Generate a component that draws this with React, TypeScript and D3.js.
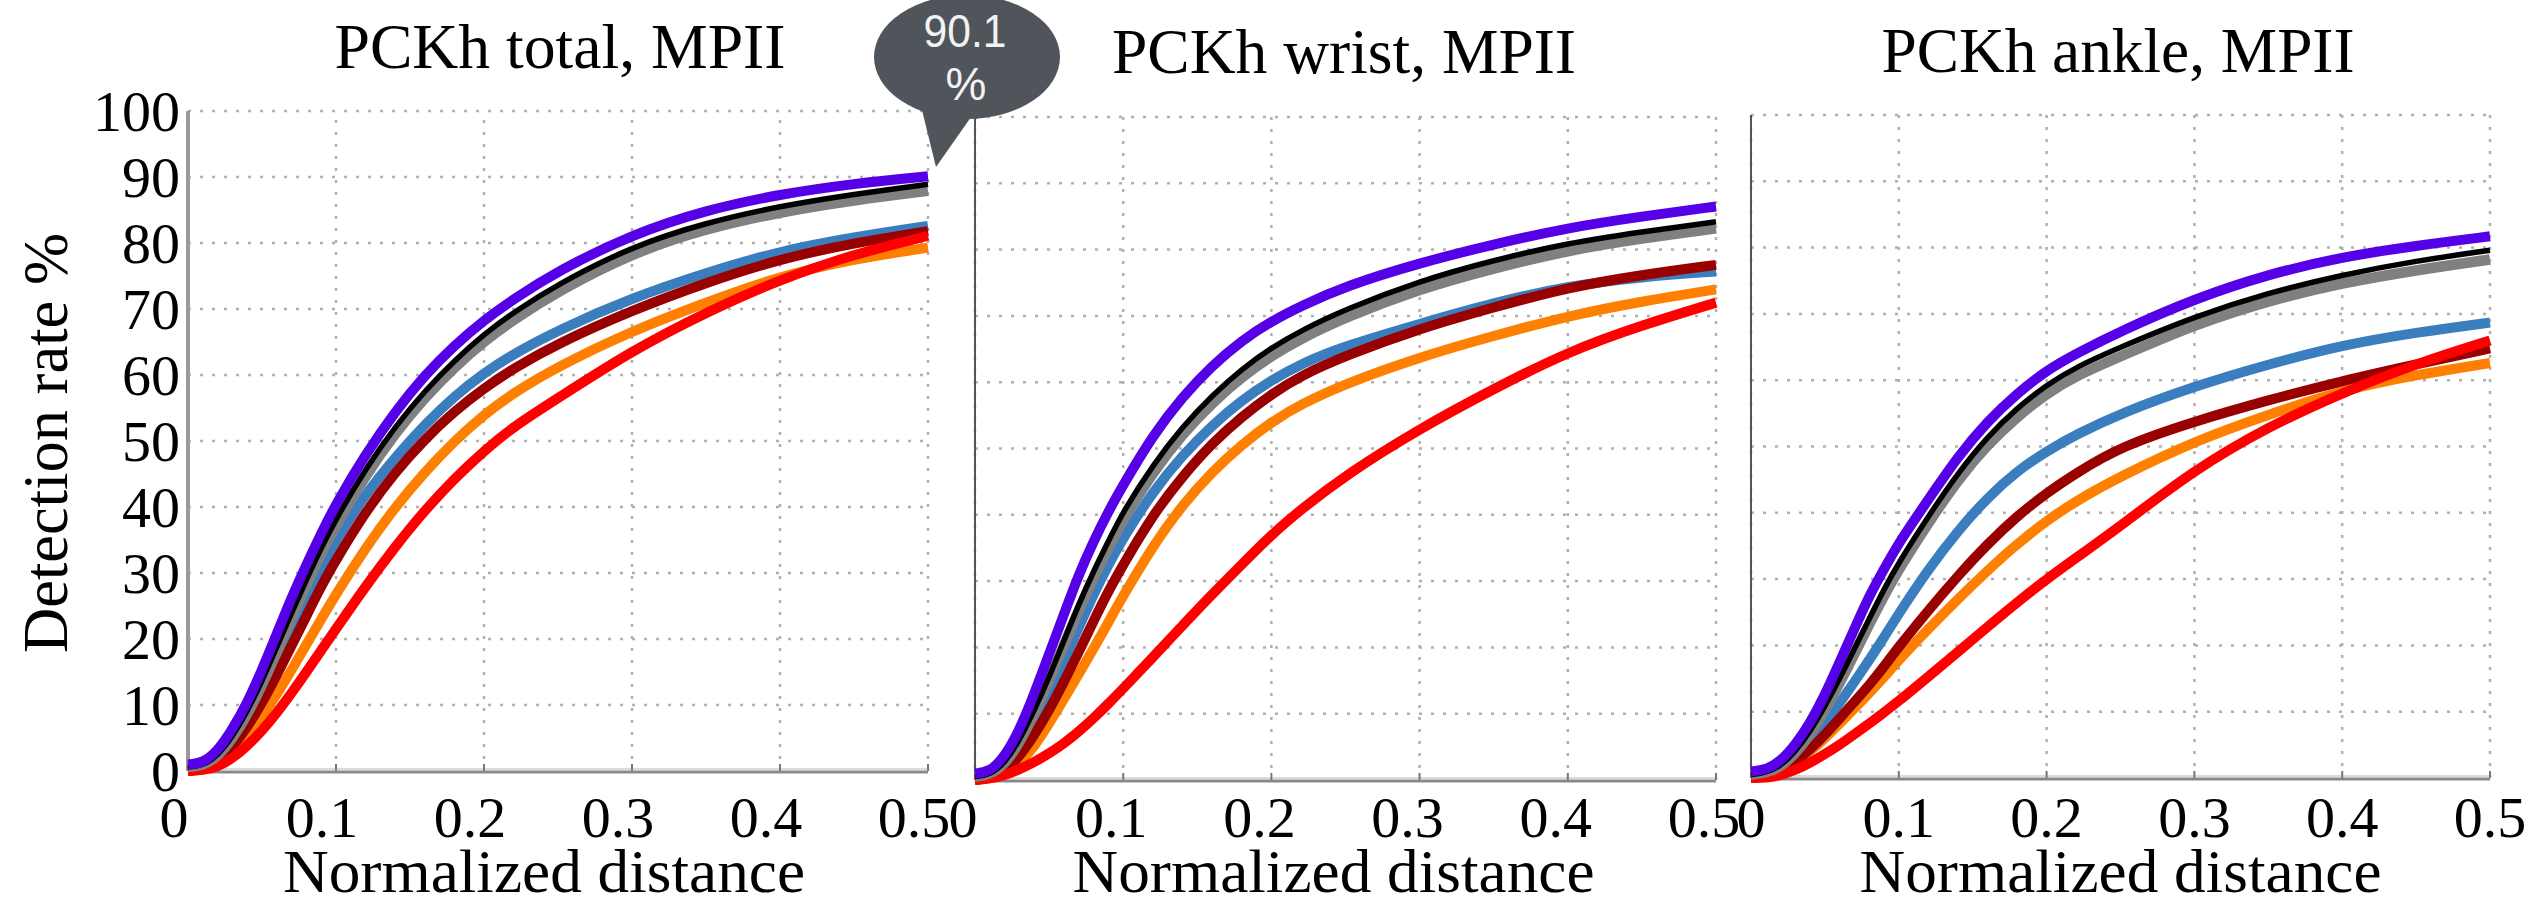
import React from 'react';
import * as d3 from 'd3';

const W = 2528;
const H = 899;
const SERIF = "'Liberation Serif', 'Times New Roman', serif";

// normalized distance samples shared by every curve
const xs = [0, 0.01, 0.02, 0.03, 0.04, 0.05, 0.06, 0.07, 0.08, 0.09, 0.1, 0.12, 0.14, 0.16, 0.18, 0.2, 0.22, 0.25, 0.3, 0.35, 0.4, 0.45, 0.5];
const xTicks = [0, 0.1, 0.2, 0.3, 0.4, 0.5];
const yTicks = [0, 10, 20, 30, 40, 50, 60, 70, 80, 90, 100];

// PCKh total
const totalPurple = [1, 1.2, 3, 6.3, 10.3, 15.3, 20.8, 26.3, 31.3, 36, 40.5, 48, 54.5, 60, 64.5, 68.3, 71.5, 75.8, 81.3, 85, 87.4, 89, 90.1];
const totalBlack = [0.6, 0.8, 2.3, 5.2, 9, 13.6, 18.8, 24, 29, 33.8, 38.2, 45.8, 52.2, 57.6, 62.2, 66.2, 69.5, 73.8, 79.5, 83.1, 85.6, 87.4, 88.9];
const totalGray = [0.6, 0.8, 2.1, 4.9, 8.5, 13, 18, 23.2, 28.2, 33, 37.3, 44.8, 51.2, 56.6, 61.2, 65.1, 68.4, 72.7, 78.5, 82.2, 84.7, 86.5, 87.9];
const totalBlue = [0.3, 0.5, 1.8, 4.3, 7.6, 11.8, 16.5, 21.5, 26.3, 30.8, 35, 42, 47.5, 52.5, 56.8, 60.3, 63.2, 66.8, 71.7, 75.5, 78.8, 80.9, 82.6];
const totalDarkRed = [0, 0.3, 1.4, 3.6, 6.6, 10.3, 14.5, 19, 23.5, 28, 32, 39.3, 45.3, 50.3, 54.5, 58, 61, 64.8, 69.8, 74, 77.6, 80, 81.8];
const totalOrange = [0, 0.2, 1, 2.8, 5.2, 8.2, 11.6, 15.3, 19.2, 23, 26.8, 33.8, 40, 45.3, 50, 54, 57.3, 61.3, 66.7, 71, 75, 77.6, 79.3];
const totalRed = [0, 0.1, 0.6, 1.9, 3.8, 6.1, 8.8, 11.8, 15, 18.3, 21.5, 28, 34, 39.5, 44.3, 48.5, 52.2, 56.5, 63.7, 69.5, 74.5, 78.3, 81.1];

// PCKh wrist
const wristPurple = [1, 1.2, 3.5, 7.5, 13, 19, 25, 31, 36, 40.5, 44.5, 52, 57.8, 62.5, 66.3, 69.2, 71.5, 74.5, 78, 80.8, 83.3, 85, 86.5];
const wristBlack = [0.5, 0.8, 2.5, 6, 10.5, 15.5, 21, 26.5, 31.5, 36, 40.5, 47.5, 53.3, 58, 62, 65.2, 67.8, 71, 75.3, 78.4, 81, 82.7, 84.2];
const wristGray = [0.5, 0.8, 2.3, 5.6, 10, 15, 20.3, 25.6, 30.5, 35, 39.3, 46.4, 52.2, 56.9, 60.8, 64, 66.6, 69.8, 74.1, 77.2, 79.9, 81.7, 83.2];
const wristBlue = [0.3, 0.5, 1.8, 4.5, 8.5, 13, 18, 23, 28, 32.5, 36.5, 43.5, 49, 53.5, 57.3, 60.3, 62.8, 65.5, 68.8, 72, 74.5, 75.9, 76.7];
const wristDarkRed = [0, 0.3, 1.3, 3.5, 6.8, 10.5, 14.8, 19.3, 24, 28.5, 32.5, 40, 45.8, 50.8, 54.8, 58.2, 61, 64, 68.1, 71.3, 74.3, 76.2, 77.7];
const wristOrange = [0, 0.2, 0.9, 2.5, 5, 8.5, 12.2, 16, 19.8, 23.8, 27.8, 35.3, 41.5, 46.5, 50.6, 54, 56.7, 59.8, 63.8, 67, 70, 72.2, 74];
const wristRed = [0, 0.2, 0.7, 1.6, 2.7, 4, 5.5, 7.3, 9.3, 11.5, 13.8, 18.5, 23.3, 28, 32.5, 37, 40.8, 46, 53, 59, 64.6, 68.6, 72];

// PCKh ankle
const anklePurple = [1, 1.2, 2.5, 5, 8.3, 12.5, 17.5, 22.5, 27.5, 31.5, 35.5, 42, 48.5, 53.8, 58, 61.5, 64, 67.4, 72.3, 76, 78.6, 80.3, 81.7];
const ankleBlack = [0.5, 0.8, 1.8, 4, 7, 10.8, 15, 19.5, 24, 28.5, 32.5, 39.5, 46, 51.5, 55.8, 59.3, 62, 65, 69.6, 73.2, 75.9, 78, 79.6];
const ankleGray = [0.5, 0.8, 1.6, 3.7, 6.5, 10.2, 14.3, 18.7, 23.2, 27.5, 31.5, 38.5, 45, 50.3, 54.5, 58, 60.7, 63.6, 68.4, 72, 74.7, 76.6, 78.2];
const ankleBlue = [0.3, 0.5, 1.3, 3, 5.3, 8.2, 11.3, 14.5, 17.8, 21.2, 24.8, 31.5, 37.3, 42.3, 46.3, 49.3, 51.8, 55, 59.1, 62.4, 65.3, 67.2, 68.7];
const ankleDarkRed = [0, 0.2, 0.9, 2.4, 4.3, 6.5, 9, 11.5, 14, 16.8, 19.8, 25.3, 30.5, 35.3, 39.5, 43, 46, 50, 53.8, 57, 59.9, 62.4, 64.8];
const ankleOrange = [0, 0.2, 0.8, 2.2, 4, 6, 8.2, 10.5, 12.8, 15.2, 17.8, 22.5, 27, 31.3, 35.3, 38.8, 41.8, 45.5, 50.8, 54.8, 58.5, 60.8, 62.6];
const ankleRed = [0, 0, 0.4, 1.2, 2.3, 3.6, 5, 6.6, 8.2, 9.9, 11.6, 15.3, 19, 22.8, 26.5, 30, 33.2, 38, 46.5, 53, 58.1, 62.5, 66];

// drawing order, bottom first
const lineStyles = [
  { key: 'orange', color: '#ff8000', width: 10 },
  { key: 'blue', color: '#3a7ebf', width: 10 },
  { key: 'darkRed', color: '#990000', width: 10 },
  { key: 'red', color: '#ff0000', width: 10 },
  { key: 'gray', color: '#808080', width: 10.5 },
  { key: 'black', color: '#000000', width: 5.5 },
  { key: 'purple', color: '#5500e6', width: 10 },
];

const panels = [
  {
    title: 'PCKh total, MPII', left: 188, right: 928, top: 111, bottom: 771,
    titleX: 560, titleY: 68, titleLen: 451, labelShift: -14, axisColor: '#9a9a9a', axisWidth: 4,
    series: { purple: totalPurple, black: totalBlack, gray: totalGray, blue: totalBlue, darkRed: totalDarkRed, orange: totalOrange, red: totalRed },
  },
  {
    title: 'PCKh wrist, MPII', left: 975, right: 1716, top: 117, bottom: 780,
    titleX: 1344, titleY: 73, titleLen: 464, labelShift: -12, axisColor: '#555', axisWidth: 2,
    series: { purple: wristPurple, black: wristBlack, gray: wristGray, blue: wristBlue, darkRed: wristDarkRed, orange: wristOrange, red: wristRed },
  },
  {
    title: 'PCKh ankle, MPII', left: 1751, right: 2490, top: 115, bottom: 778,
    titleX: 2118, titleY: 72, titleLen: 473, labelShift: 0, axisColor: '#555', axisWidth: 2,
    series: { purple: anklePurple, black: ankleBlack, gray: ankleGray, blue: ankleBlue, darkRed: ankleDarkRed, orange: ankleOrange, red: ankleRed },
  },
];

const fmtX = (v) => (v === 0 ? '0' : d3.format('.1f')(v));

const Panel = ({ p, showY }) => {
  const x = d3.scaleLinear().domain([0, 0.5]).range([p.left, p.right]);
  const y = d3.scaleLinear().domain([0, 100]).range([p.bottom, p.top]);
  const line = d3.line().x((d) => x(d[0])).y((d) => y(d[1])).curve(d3.curveBasis);
  const mid = (p.left + p.right) / 2;

  return (
    <g>
      {/* dotted grid */}
      {yTicks.map((t) => (
        <line key={'h' + t} x1={p.left} x2={p.right} y1={y(t)} y2={y(t)}
          stroke="#b0b0b0" strokeWidth={2.5} strokeDasharray="3 9" />
      ))}
      {xTicks.map((t) => (
        <line key={'v' + t} x1={x(t)} x2={x(t)} y1={p.bottom} y2={p.top}
          stroke="#b0b0b0" strokeWidth={2.5} strokeDasharray="3 9" />
      ))}
      {/* axes */}
      <line x1={p.left} x2={p.right} y1={p.bottom} y2={p.bottom} stroke="#dadada" strokeWidth={6} />
      <line x1={p.left} x2={p.right} y1={p.bottom + 1} y2={p.bottom + 1} stroke="#888" strokeWidth={2.5} />
      <line x1={p.left} x2={p.left} y1={p.top} y2={p.bottom} stroke={p.axisColor} strokeWidth={p.axisWidth} />
      {xTicks.map((t) => (
        <line key={'t' + t} x1={x(t)} x2={x(t)} y1={p.bottom} y2={p.bottom - 7} stroke="#777" strokeWidth={2} />
      ))}

      {lineStyles.map((s) => (
        <path key={s.key} d={line(xs.map((v, i) => [v, p.series[s.key][i]]))}
          fill="none" stroke={s.color} strokeWidth={s.width} />
      ))}

      <text x={p.titleX} y={p.titleY} textAnchor="middle" fontFamily={SERIF} fontSize={63}
        textLength={p.titleLen} lengthAdjust="spacingAndGlyphs">{p.title}</text>

      {xTicks.map((t) => (
        <text key={'xl' + t} x={x(t) + p.labelShift} y={837} textAnchor="middle" fontFamily={SERIF} fontSize={58}>
          {fmtX(t)}
        </text>
      ))}
      <text x={mid + p.labelShift} y={892} textAnchor="middle" fontFamily={SERIF} fontSize={62}
        textLength={522} lengthAdjust="spacingAndGlyphs">Normalized distance</text>

      {showY && yTicks.map((t) => (
        <text key={'yl' + t} x={180} y={y(t) + 20} textAnchor="end" fontFamily={SERIF} fontSize={58}>{t}</text>
      ))}
    </g>
  );
};

export default function App() {
  return (
    <svg width={W} height={H} viewBox={`0 0 ${W} ${H}`}
      style={{ position: 'absolute', left: 0, top: 0, display: 'block', background: '#fff' }}>
      <rect width={W} height={H} fill="#fff" />
      {panels.map((p, i) => <Panel key={p.title} p={p} showY={i === 0} />)}

      <text transform="translate(67,443) rotate(-90)" textAnchor="middle" fontFamily={SERIF} fontSize={64}
        textLength={420} lengthAdjust="spacingAndGlyphs">Detection rate %</text>

      {/* value callout */}
      <g>
        <polygon points="921,106 976,110 936,167" fill="#50555b" />
        <ellipse cx={967} cy={57} rx={93} ry={62} fill="#50555b" />
        <text x={965} y={47} textAnchor="middle" fontFamily="'Liberation Sans', Arial, sans-serif" fontSize={46}
          fill="#f2f2f2" textLength={83} lengthAdjust="spacingAndGlyphs">90.1</text>
        <text x={966} y={100} textAnchor="middle" fontFamily="'Liberation Sans', Arial, sans-serif" fontSize={46}
          fill="#f2f2f2">%</text>
      </g>
    </svg>
  );
}
